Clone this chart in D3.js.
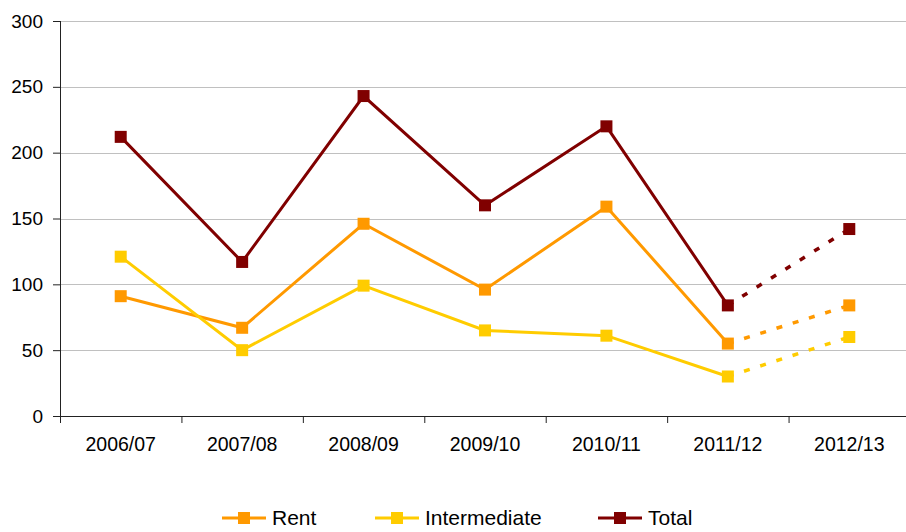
<!DOCTYPE html>
<html><head><meta charset="utf-8">
<script src="https://cdn.jsdelivr.net/npm/d3@7"></script>
<style>body{margin:0;background:#fff}svg{display:block}text{font-family:"Liberation Sans",Arial,sans-serif;fill:#000}</style>
</head><body>
<svg id="c" width="906" height="532"></svg>
<script>
const categories = ["2006/07","2007/08","2008/09","2009/10","2010/11","2011/12","2012/13"];
const rent = [91, 67, 146, 96, 159, 55, 84];
const intermediate = [121, 50, 99, 65, 61, 30, 60];
const total = [212, 117, 243, 160, 220, 84, 142];
const yTicks = [0, 50, 100, 150, 200, 250, 300];
const seriesNames = ["Rent", "Intermediate", "Total"];
const seriesColors = ["#FF9900", "#FFCC00", "#800000"];
const projectedFrom = 5; // index after which values are projected (dashed)

const svg = d3.select("#c");
const pLeft = 60, pRight = 910, pTop = 21, pBottom = 416;
const x = d3.scaleBand().domain(categories).range([pLeft, pRight]);
const y = d3.scaleLinear().domain([0, 300]).range([pBottom, pTop]);

// gridlines
svg.append("g").selectAll("line").data(yTicks.slice(1)).join("line")
  .attr("x1", pLeft).attr("x2", pRight)
  .attr("y1", d => Math.round(y(d)) + 0.5).attr("y2", d => Math.round(y(d)) + 0.5)
  .attr("stroke", "#c0c0c0").attr("stroke-width", 1);

// y axis
const ya = svg.append("g").attr("transform", `translate(${pLeft},0)`)
  .call(d3.axisLeft(y).tickValues(yTicks).tickSize(7).tickPadding(10));
ya.select(".domain").attr("stroke", "#222").attr("d", `M0.5,${pTop}V${pBottom}`);
ya.selectAll(".tick line").attr("stroke", "#222");
ya.selectAll("text").style("font-size", "19px");

// x axis
const xa = svg.append("g").attr("transform", `translate(0,${pBottom})`)
  .call(d3.axisBottom(x).tickSize(0).tickPadding(21));
xa.select(".domain").attr("stroke", "#222").attr("d", `M${pLeft},0.5H${pRight}`);
xa.selectAll("text").style("font-size", "19.5px");
xa.append("g").selectAll("line").data(categories.concat([null])).join("line")
  .attr("x1", (d,i) => pLeft + i * x.step() + 0.5).attr("x2", (d,i) => pLeft + i * x.step() + 0.5)
  .attr("y1", 0).attr("y2", 7).attr("stroke", "#222");

const data = [rent, intermediate, total];
const line = d3.line().x(d => x(d.c) + x.bandwidth()/2).y(d => y(d.v));
data.forEach((vals, si) => {
  const pts = vals.map((v, i) => ({c: categories[i], v}));
  const g = svg.append("g");
  g.append("path").attr("d", line(pts.slice(0, projectedFrom + 1)))
    .attr("fill", "none").attr("stroke", seriesColors[si]).attr("stroke-width", 3);
  g.append("path").attr("d", line(pts.slice(projectedFrom)))
    .attr("fill", "none").attr("stroke", seriesColors[si]).attr("stroke-width", 3.5)
    .attr("stroke-dasharray", "6,11");
  g.selectAll("rect").data(pts).join("rect")
    .attr("x", d => x(d.c) + x.bandwidth()/2 - 6).attr("y", d => y(d.v) - 6)
    .attr("width", 12).attr("height", 12).attr("fill", seriesColors[si]);
});

// legend
const legX = [222, 375, 598];
const legY = 518;
const lg = svg.append("g");
seriesNames.forEach((n, i) => {
  lg.append("line").attr("x1", legX[i]).attr("x2", legX[i] + 44)
    .attr("y1", legY).attr("y2", legY).attr("stroke", seriesColors[i]).attr("stroke-width", 3);
  lg.append("rect").attr("x", legX[i] + 16).attr("y", legY - 6).attr("width", 12).attr("height", 12)
    .attr("fill", seriesColors[i]);
  lg.append("text").attr("x", legX[i] + 50).attr("y", legY).attr("dy", "0.35em")
    .style("font-size", "21px").text(n);
});
</script>
</body></html>
